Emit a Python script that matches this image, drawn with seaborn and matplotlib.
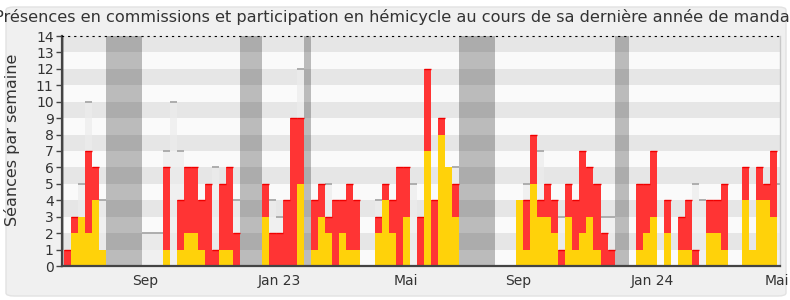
import matplotlib
matplotlib.use("Agg")
import matplotlib.pyplot as plt
import seaborn as sns
import pandas as pd
import numpy as np
from matplotlib.patches import FancyBboxPatch

# ---- data (one entry per week) ----
weeks = list(range(102))
hemicycle = [0, 2, 3, 2, 4, 1, 0, 0, 0, 0, 0, 0, 0, 0,
             1, 0, 1, 2, 2, 1, 0, 0, 1, 1, 0, 0, 0, 0,
             3, 0, 0, 0, 0, 5, 0,
             1, 3, 2, 0, 2, 1, 1, 0, 0, 2, 4, 2, 0, 3, 0, 0, 7, 0, 8, 6, 3,
             0, 0, 0, 0, 0, 0, 0, 0,
             4, 1, 5, 3, 3, 2, 0, 3, 1, 2, 3, 1, 0, 0, 0, 0,
             0, 1, 2, 3, 0, 2, 0, 1, 1, 0, 0, 2, 2, 1, 0, 0, 4, 1, 4, 4, 3, 0]
commission = [1, 1, 0, 5, 2, 0, 0, 0, 0, 0, 0, 0, 0, 0,
              5, 0, 3, 4, 4, 3, 5, 1, 4, 5, 2, 0, 0, 0,
              2, 2, 2, 4, 9, 4, 0,
              3, 2, 1, 4, 2, 4, 3, 0, 0, 1, 1, 2, 6, 3, 0, 3, 5, 4, 1, 0, 2,
              0, 0, 0, 0, 0, 0, 0, 0,
              0, 3, 3, 1, 2, 2, 1, 2, 3, 5, 3, 4, 2, 1, 0, 0,
              0, 4, 3, 4, 0, 2, 0, 2, 3, 1, 0, 2, 2, 4, 0, 0, 2, 0, 2, 1, 4, 0]
maximum_visible = {2: 5, 3: 10, 5: 4, 11: 2, 12: 2, 13: 2, 14: 7, 15: 10, 16: 7,
                   21: 6, 24: 4, 29: 4, 30: 3, 33: 12, 37: 5, 44: 4, 49: 5,
                   55: 6, 65: 5, 67: 7, 70: 3, 76: 3, 77: 3, 89: 5, 90: 4, 101: 5}
vacances = [(-1, 0), (6, 11), (25, 28), (34, 35), (56, 61), (78, 80)]
tick_weeks = [11.47, 30.45, 48.4, 64.3, 83.3, 101.0]
tick_labels = ["Sep", "Jan 23", "Mai", "Sep", "Jan 24", "Mai"]

title = ("Présences en commissions et participation en hémicycle "
         "au cours de sa dernière année de mandat")

# ---- derived table ----
df = pd.DataFrame({"semaine": weeks, "hemicycle": hemicycle,
                   "commission": commission})
df["total"] = df["hemicycle"] + df["commission"]
df["maximum"] = [maximum_visible.get(w, 0) for w in weeks]

RED = "#FF3434"
RED_TOP = "#F00000"
YELLOW = "#FFD20A"

sns.set_theme(style="white")
plt.rcParams["font.family"] = ["DejaVu Sans"]

fig = plt.figure(figsize=(7.9, 3.0), dpi=100, facecolor="white")
box = FancyBboxPatch((6 / 790, 4 / 300), 780 / 790, 289 / 300,
                     boxstyle="round,pad=0,rounding_size=0.01",
                     transform=fig.transFigure, facecolor="#F0F0F0",
                     edgecolor="#E2E2E2", lw=1.0, zorder=-5)
fig.patches.append(box)

ax = fig.add_axes([62 / 790, 34 / 300, 718 / 790, 230 / 300])
ax.set_zorder(2)
ax.set_facecolor("#FAFAFA")

# horizontal stripes
for k in range(1, 14, 2):
    ax.axhspan(k, k + 1, color="#E6E6E6", lw=0, zorder=0)

# vacation bands
for a, b in vacances:
    ax.axvspan(a - 0.5, b - 0.5, color="black", alpha=0.25, lw=0, zorder=0.6)

bar_kw = dict(order=weeks, width=1, errorbar=None, saturation=1, ax=ax,
              linewidth=0, edgecolor="none")

# light grey maximum bars
sns.barplot(data=df, x="semaine", y="maximum", color="#ECECEC", alpha=0.7,
            zorder=1.0, **bar_kw)
mv = df[df["maximum"] > 0]
ax.hlines(mv["maximum"], mv["semaine"] - 0.5, mv["semaine"] + 0.5,
          color="#A8A8A8", lw=1.3, zorder=1.1)

# total (red) then hemicycle (yellow) in front
sns.barplot(data=df, x="semaine", y="total", color=RED, zorder=2, **bar_kw)
sns.barplot(data=df, x="semaine", y="hemicycle", color=YELLOW, zorder=2.2,
            **bar_kw)
rt = df[df["commission"] > 0]
ax.hlines(rt["total"], rt["semaine"] - 0.5, rt["semaine"] + 0.5,
          color=RED_TOP, lw=1.0, zorder=2.1)

ax.set_xlim(-0.78, 100.92)
ax.set_ylim(0, 14)
ax.set_yticks(range(0, 15))
ax.set_xticks([t - 0.5 for t in tick_weeks])
ax.set_xticklabels(tick_labels)
ax.set_xlabel("")
ax.set_ylabel("")

ax.tick_params(axis="y", which="both", left=True, length=4, width=1,
               color="#444444", pad=2, labelsize=10, labelcolor="#333333")
ax.tick_params(axis="x", which="both", bottom=False, length=0, pad=6,
               labelsize=10, labelcolor="#333333")

for side in ["left", "bottom"]:
    ax.spines[side].set_visible(True)
    ax.spines[side].set_color("#444444")
    ax.spines[side].set_linewidth(1.6)
ax.spines["right"].set_color("#C8C8C8")
ax.spines["right"].set_linewidth(1.0)
ax.spines["top"].set_color("black")
ax.spines["top"].set_linewidth(0.8)
ax.spines["top"].set_linestyle((0, (1, 4.5)))

fig.text(0.5, 1 - 17 / 300, title, ha="center", va="center",
         fontsize=11.65, color="#333333")
fig.text(12 / 790, 1 - 140 / 300, "Séances par semaine", rotation=90,
         ha="center", va="center", fontsize=11.5, color="#333333")

fig.savefig("out.png", dpi=100, facecolor="white")
